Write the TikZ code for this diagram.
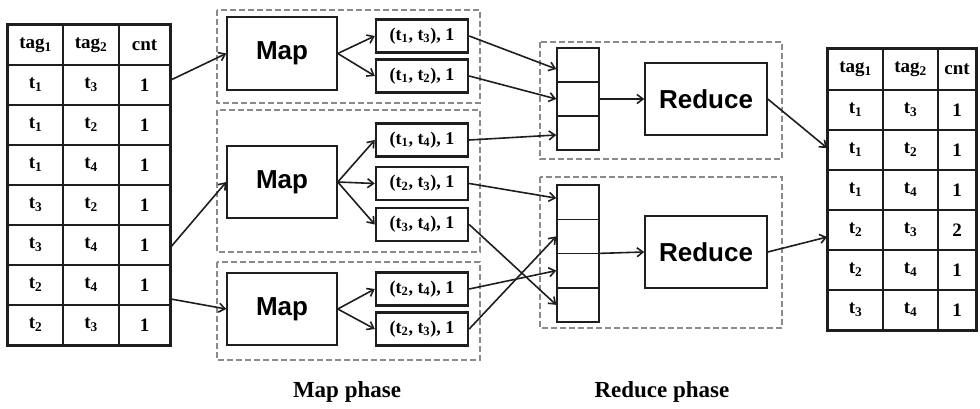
\documentclass[tikz,border=0pt]{standalone}
\usepackage{fontspec}
\setmainfont{Liberation Serif}
\setsansfont{Liberation Sans}
\usetikzlibrary{arrows.meta}
\definecolor{ink}{HTML}{1E1E1E}
\definecolor{dashgray}{HTML}{8A8A8A}
\newcommand{\ts}[1]{t\textsubscript{#1}}
\begin{document}
\begin{tikzpicture}[x=1pt,y=-1pt,
  tcell/.style={draw=ink, line width=1.7pt, inner sep=0pt, minimum height=40pt,
    font=\bfseries\fontsize{19}{19}\selectfont},
  mapbox/.style={draw=ink, line width=1.5pt, minimum width=110pt, minimum height=72pt,
    inner sep=0pt, font=\sffamily\bfseries\fontsize{26}{26}\selectfont},
  redbox/.style={draw=ink, line width=1.5pt, minimum width=122pt, minimum height=72pt,
    inner sep=0pt, font=\sffamily\bfseries\fontsize{26}{26}\selectfont},
  pairbox/.style={draw=ink, line width=2.4pt, minimum width=92pt, minimum height=33pt,
    inner sep=0pt, font=\bfseries\fontsize{18}{18}\selectfont},
  bufcell/.style={draw=ink, line width=1.5pt, minimum width=42pt, inner sep=0pt},
  grp/.style={draw=dashgray, line width=1.7pt, dash pattern=on 6pt off 3pt},
  arr/.style={draw=ink, line width=1.6pt, -{Straight Barb[length=6pt,width=9pt,line width=1.6pt]}},
  phase/.style={font=\bfseries\fontsize{23}{23}\selectfont}
]
\useasboundingbox (0,0) rectangle (980,409);

% ---------- input table ----------
\node[tcell, minimum width=55pt] (lt-0-1) at (35.5,45) {tag\textsubscript{1}};
\node[tcell, minimum width=56pt] (lt-0-2) at (91,45) {tag\textsubscript{2}};
\node[tcell, minimum width=51pt] (lt-0-3) at (144.5,45) {cnt};
\foreach \r/\a/\b/\c in {1/1/3/1, 2/1/2/1, 3/1/4/1, 4/3/2/1, 5/3/4/1, 6/2/4/1, 7/2/3/1} {
  \node[tcell, minimum width=55pt] (lt-\r-1) at (35.5,45+40*\r) {\ts{\a}};
  \node[tcell, minimum width=56pt] (lt-\r-2) at (91,45+40*\r) {\ts{\b}};
  \node[tcell, minimum width=51pt] (lt-\r-3) at (144.5,45+40*\r) {\c};
}
\draw[draw=ink, line width=2.4pt] (lt-0-1.north west) rectangle (lt-7-3.south east);

% ---------- output table ----------
\node[tcell, minimum width=55pt, minimum height=41pt] (rt-0-1) at (855.5,69.5) {tag\textsubscript{1}};
\node[tcell, minimum width=55pt, minimum height=41pt] (rt-0-2) at (910.5,69.5) {tag\textsubscript{2}};
\node[tcell, minimum width=38pt, minimum height=41pt] (rt-0-3) at (957,69.5) {cnt};
\foreach \r/\a/\b/\c in {1/1/3/1, 2/1/2/1, 3/1/4/1, 4/2/3/2, 5/2/4/1, 6/3/4/1} {
  \node[tcell, minimum width=55pt] (rt-\r-1) at (855.5,70+40*\r) {\ts{\a}};
  \node[tcell, minimum width=55pt] (rt-\r-2) at (910.5,70+40*\r) {\ts{\b}};
  \node[tcell, minimum width=38pt] (rt-\r-3) at (957,70+40*\r) {\c};
}
\draw[draw=ink, line width=2.4pt] (rt-0-1.north west) rectangle (rt-6-3.south east);

% ---------- map phase ----------
\draw[grp] (217,10) rectangle (480,103);
\draw[grp] (217,110) rectangle (480,252);
\draw[grp] (217,262) rectangle (480,360);

\node[mapbox, minimum height=73pt] (map1) at (282,53.5) {Map};
\node[mapbox] (map2) at (282,182) {Map};
\node[mapbox] (map3) at (282,309) {Map};

\node[pairbox] (o11) at (422,36) {(\ts{1}, \ts{3}), 1};
\node[pairbox] (o12) at (422,76) {(\ts{1}, \ts{2}), 1};
\node[pairbox] (o21) at (422,140) {(\ts{1}, \ts{4}), 1};
\node[pairbox] (o22) at (422,183.5) {(\ts{2}, \ts{3}), 1};
\node[pairbox] (o23) at (422,224.5) {(\ts{3}, \ts{4}), 1};
\node[pairbox] (o31) at (422,289) {(\ts{2}, \ts{4}), 1};
\node[pairbox] (o32) at (422,329) {(\ts{2}, \ts{3}), 1};

% ---------- reduce phase ----------
\draw[grp] (540,42) rectangle (782,159);
\draw[grp] (540,177) rectangle (782,328);

\foreach \k in {1,2,3} {
  \node[bufcell, minimum height=34pt] (b1-\k) at (578,31+34*\k) {};
}
\foreach \k in {1,2,3,4} {
  \node[bufcell, minimum height=34.25pt] (b2-\k) at (578,167.875+34.25*\k) {};
}

\node[redbox] (red1) at (706,99) {Reduce};
\node[redbox] (red2) at (706,252) {Reduce};

% ---------- connectors ----------
\draw[arr] ([yshift=5pt]lt-1-3.east) -- (map1.west);
\draw[arr] ([yshift=-2pt]lt-5-3.east) -- (map2.west);
\draw[arr] ([yshift=-14pt]lt-6-3.east) -- (map3.west);

\draw[arr] (map1.east) -- (o11.west);
\draw[arr] (map1.east) -- (o12.west);
\draw[arr] (map2.east) -- (o21.west);
\draw[arr] (map2.east) -- (o22.west);
\draw[arr] (map2.east) -- (o23.west);
\draw[arr] (map3.east) -- (o31.west);
\draw[arr] (map3.east) -- (o32.west);

\draw[arr] (o11.east) -- ([yshift=-4pt]b1-1.west);
\draw[arr] (o12.east) -- (b1-2.west);
\draw[arr] (o21.east) -- ([yshift=-2pt]b1-3.west);
\draw[arr] (o22.east) -- ([yshift=4pt]b2-1.west);
\draw[arr] (o23.east) -- (b2-4.west);
\draw[arr] (o31.east) -- (b2-3.west);
\draw[arr] (o32.east) -- (b2-2.west);

\draw[arr] (b1-2.east) -- (red1.west);
\draw[arr] ([yshift=-17pt]b2-2.east) -- (red2.west);

\draw[arr] (red1.east) -- ([yshift=2pt]rt-2-1.west);
\draw[arr] (red2.east) -- ([yshift=-7pt]rt-4-1.west);

% ---------- phase labels ----------
\node[phase] (lblmap) at (347,392) {Map phase};
\node[phase] (lblred) at (662,392) {Reduce phase};
\end{tikzpicture}
\end{document}
